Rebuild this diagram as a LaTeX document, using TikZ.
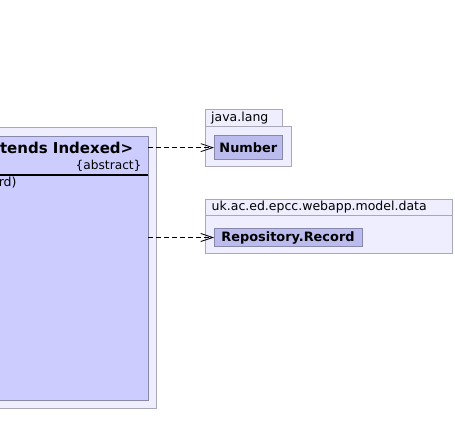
\documentclass[tikz,border=0pt]{standalone}
\usepackage{fontspec}
\setmainfont{DejaVu Sans}
\usetikzlibrary{arrows.meta}
\definecolor{pkgfill}{HTML}{EEEEFF}
\definecolor{pkgline}{HTML}{A8A8B8}
\definecolor{clsfill}{HTML}{CCCCFF}
\definecolor{clsline}{HTML}{8888AA}
\definecolor{refill}{HTML}{BBBBEE}
\begin{document}
\begin{tikzpicture}[x=1pt,y=-1pt,
 pkg/.style={draw=pkgline,fill=pkgfill,line width=1pt,inner sep=0,outer sep=0,rectangle},
 cls/.style={draw=clsline,fill=clsfill,line width=1pt,inner sep=0,outer sep=0,rectangle},
 refbox/.style={draw=clsline,fill=refill,line width=1pt,inner sep=0,outer sep=0,rectangle,font=\bfseries\fontsize{12.9}{15}\selectfont},
 dep/.style={dash pattern=on 5pt off 3pt,line width=0.8pt,-{Straight Barb[length=12pt,width=8pt]}},
 lbl/.style={inner sep=0,font=\fontsize{12.5}{15}\selectfont}]
\useasboundingbox (0,0) rectangle (455,446);
\begin{scope}
\clip (0,0) rectangle (455,446);
% left package and class
\node[pkg,anchor=north west,minimum width=186pt,minimum height=280.5pt] (outer) at (-30,127.5) {};
\node[cls,anchor=north west,minimum width=168pt,minimum height=263.3pt] (cls) at (-20,136.7) {};
\node[inner sep=0,anchor=east,font=\bfseries\fontsize{15}{18}\selectfont] (hdr) at (133.5,147.5) {tends Indexed>};
\node[lbl,anchor=east,font=\fontsize{12.2}{14}\selectfont] (abs) at (141.7,166) {\{abstract\}};
\draw[line width=1.6pt] (-20,175) -- (148,175);
\node[lbl,anchor=east] (meth) at (16.7,183) {rd)};
\end{scope}
% java.lang package
\node[pkg,anchor=north west,minimum width=76.6pt,minimum height=16.7pt] (jtab) at (205.7,110) {};
\node[pkg,anchor=north west,minimum width=86pt,minimum height=40pt] (jbody) at (205.7,126.7) {};
\node[lbl,anchor=west] (jname) at (211,118.3) {java.lang};
\node[refbox,anchor=north west,minimum width=68.7pt,minimum height=23.3pt] (num) at (214,136) {Number};
% uk package
\node[pkg,anchor=north west,minimum width=247pt,minimum height=54.7pt] (uk) at (205.7,199.3) {};
\draw[pkgline,line width=1pt] (uk.west |- 0,215.7) -- (uk.east |- 0,215.7);
\node[lbl,anchor=west] (ukname) at (211.5,207.5) {uk.ac.ed.epcc.webapp.model.data};
\node[refbox,anchor=north west,minimum width=148pt,minimum height=18.4pt] (repo) at (214,228.3) {Repository.Record};
% dependencies
\draw[dep] (num.west -| cls.east) -- (num.west);
\draw[dep] (repo.west -| cls.east) -- (repo.west);
\end{tikzpicture}
\end{document}
